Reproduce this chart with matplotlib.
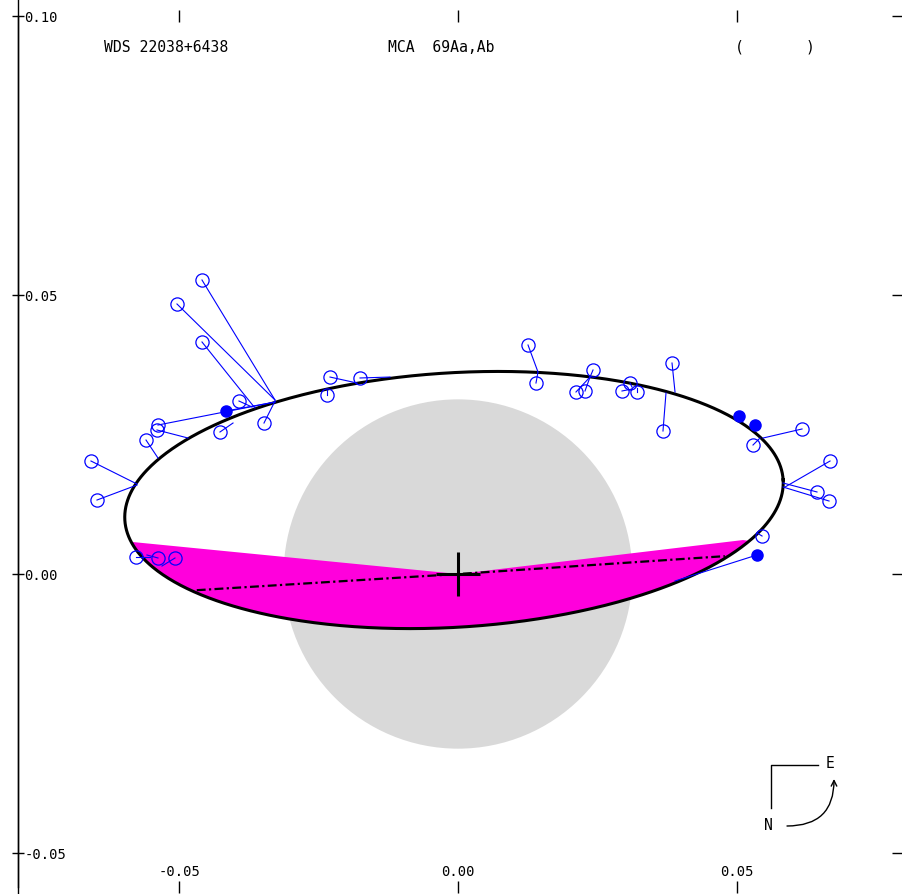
import matplotlib
matplotlib.use("Agg")
import matplotlib.pyplot as plt
import numpy as np
from matplotlib.patches import Circle, Polygon
from matplotlib.lines import Line2D

plt.rcParams['font.family'] = ['DejaVu Sans Mono']

# apparent orbit (projected ellipse), arcsec
ell_center = (-0.00072, 0.01326)
ell_a = 0.0592
ell_b = 0.0228
ell_angle = 3.5  # deg

# line of nodes end points
node_x = [-0.0469, 0.0479]
node_y = [-0.0029, 0.0032]

# shaded sector end points on the orbit
sector_x = [-0.05835, 0.05117]
sector_y = [0.00573, 0.00609]

# resolution limit circle radius
res_radius = 0.0313

# measures (observed) and predicted positions on the orbit
obs_x = [-0.04596, -0.05045, -0.04596, -0.04165, -0.03932, -0.03483, -0.04273,
         -0.05386, -0.05404, -0.05601, -0.06589, -0.06481, -0.02298, -0.02352,
         -0.01759, 0.01257, 0.01400, 0.02424, 0.02118, 0.02280, 0.02944,
         0.03088, 0.03214, 0.03842, 0.03680, 0.05045, 0.05332, 0.05296,
         0.06176, 0.06679, 0.06445, 0.06661, 0.05458, 0.05368, -0.05781,
         -0.05386, -0.05081]
obs_y = [0.05269, 0.04839, 0.04158, 0.02921, 0.03100, 0.02706, 0.02545,
         0.02670, 0.02581, 0.02401, 0.02025, 0.01326, 0.03530, 0.03208,
         0.03513, 0.04104, 0.03423, 0.03656, 0.03262, 0.03280, 0.03280,
         0.03423, 0.03262, 0.03781, 0.02563, 0.02832, 0.02670, 0.02312,
         0.02599, 0.02025, 0.01470, 0.01308, 0.00681, 0.00341, 0.00305,
         0.00287, 0.00287]
fit_x = [-0.03285, -0.03285, -0.03645, -0.03285, -0.03698, -0.03285, -0.04039,
         -0.03285, -0.04847, -0.05386, -0.05763, -0.05763, -0.01813, -0.02352,
         -0.01221, 0.01436, 0.01436, 0.02370, 0.02370, 0.02370, 0.03124,
         0.03124, 0.03214, 0.03896, 0.03734, 0.05117, 0.05386, 0.05422,
         0.05476, 0.05871, 0.05835, 0.05835, 0.05368, 0.03896, -0.05530,
         -0.05584, -0.05314]
fit_y = [0.03118, 0.03118, 0.02975, 0.03082, 0.02993, 0.03100, 0.02706,
         0.03082, 0.02437, 0.02079, 0.01613, 0.01595, 0.03423, 0.03297,
         0.03530, 0.03620, 0.03620, 0.03530, 0.03530, 0.03530, 0.03315,
         0.03351, 0.03333, 0.03262, 0.03244, 0.02724, 0.02581, 0.02437,
         0.02437, 0.01559, 0.01631, 0.01559, 0.00735, -0.00125, 0.00305,
         0.00341, 0.00143]
filled = [3, 25, 26, 33]

xticks = [-0.05, 0.0, 0.05]
xlabels = ['-0.05', '0.00', '0.05']
yticks = [-0.05, 0.0, 0.05, 0.10]
ylabels = ['-0.05', '0.00', '0.05', '0.10']

W, H = 903, 894
fig = plt.figure(figsize=(W / 100, H / 100), dpi=100)
ax = fig.add_axes([18 / W, 7 / H, 880 / W, 871 / H])
ax.set_xlim(-0.07899, 0.07899)
ax.set_ylim(-0.05609, 0.1000)

blue = '#0000ff'

# resolution circle
ax.add_patch(Circle((0, 0), res_radius, color='#d9d9d9', lw=0, zorder=1))

# orbit ellipse points
t = np.linspace(0, 2 * np.pi, 721)
th = np.radians(ell_angle)


def ell_pts(tt):
    ex = ell_a * np.cos(tt)
    ey = ell_b * np.sin(tt)
    return (ell_center[0] + ex * np.cos(th) - ey * np.sin(th),
            ell_center[1] + ex * np.sin(th) + ey * np.cos(th))


def ell_param(px, py):
    dx, dy = px - ell_center[0], py - ell_center[1]
    xr = dx * np.cos(th) + dy * np.sin(th)
    yr = -dx * np.sin(th) + dy * np.cos(th)
    return np.arctan2(yr / ell_b, xr / ell_a)


# shaded sector from primary along the lower arc
t1 = ell_param(sector_x[0], sector_y[0])
t2 = ell_param(sector_x[1], sector_y[1])
arc_x, arc_y = ell_pts(np.linspace(t1, t2, 200))
poly = np.column_stack([np.r_[0, sector_x[0], arc_x, sector_x[1]],
                        np.r_[0, sector_y[0], arc_y, sector_y[1]]])
ax.add_patch(Polygon(poly, closed=True, color='#ff00dc', lw=0, zorder=2))

ex, ey = ell_pts(t)
ax.plot(ex, ey, color='black', lw=2.2, zorder=4)

# line of nodes
ax.plot([node_x[0], 0, node_x[1]], [node_y[0], 0, node_y[1]], color='black',
        lw=1.6, dashes=[4, 1.5, 1, 1.5], zorder=4)

# O-C lines and measures
for i in range(len(obs_x)):
    ax.plot([obs_x[i], fit_x[i]], [obs_y[i], fit_y[i]], color=blue, lw=0.8,
            zorder=5)
    if i in filled:
        ax.plot(obs_x[i], obs_y[i], 'o', color=blue, ms=8, zorder=6)
    else:
        ax.plot(obs_x[i], obs_y[i], 'o', mfc='none', mec=blue, ms=9.5,
                mew=0.9, zorder=6)

# primary
ax.plot(0, 0, '+', color='black', ms=32, mew=2.2, zorder=7)

# axes and ticks
for s in ['top', 'bottom', 'right']:
    ax.spines[s].set_visible(False)
ax.spines['left'].set_linewidth(1)
ax.set_xticks(xticks, xlabels)
ax.set_yticks(yticks, ylabels)
ax.tick_params(axis='x', direction='inout', length=9, width=1, top=True,
               bottom=True, pad=-20, labelsize=10)
ax.tick_params(axis='y', direction='inout', length=8, width=1, left=True,
               right=True, pad=-8.5, labelsize=10)
for lbl in ax.get_yticklabels():
    lbl.set_horizontalalignment('left')
fig.add_artist(Line2D([18 / W, 18 / W], [0, 1], transform=fig.transFigure,
                      color='black', lw=1))

# header
fig.text(104 / W, 1 - 47 / H, 'WDS 22038+6438', fontsize=10.6, va='center')
fig.text(388 / W, 1 - 47 / H, 'MCA  69Aa,Ab', fontsize=10.6, va='center')
fig.text(735 / W, 1 - 47 / H, '(       )', fontsize=10.6, va='center')

# compass
fig.add_artist(Line2D([771 / W, 771 / W, 818 / W],
                      [1 - 808 / H, 1 - 765 / H, 1 - 765 / H],
                      transform=fig.transFigure, color='black', lw=1))
fig.text(830 / W, 1 - 763 / H, 'E', fontsize=10.6, ha='center', va='center')
fig.text(768 / W, 1 - 825 / H, 'N', fontsize=10.6, ha='center', va='center')
ax.annotate('', xy=(834 / W, 1 - 779 / H), xytext=(787 / W, 1 - 826 / H),
            xycoords='figure fraction', textcoords='figure fraction',
            arrowprops=dict(arrowstyle='->', color='black', lw=1,
                            connectionstyle='arc3,rad=0.5',
                            shrinkA=0, shrinkB=0))

fig.savefig('out.png', dpi=100)
